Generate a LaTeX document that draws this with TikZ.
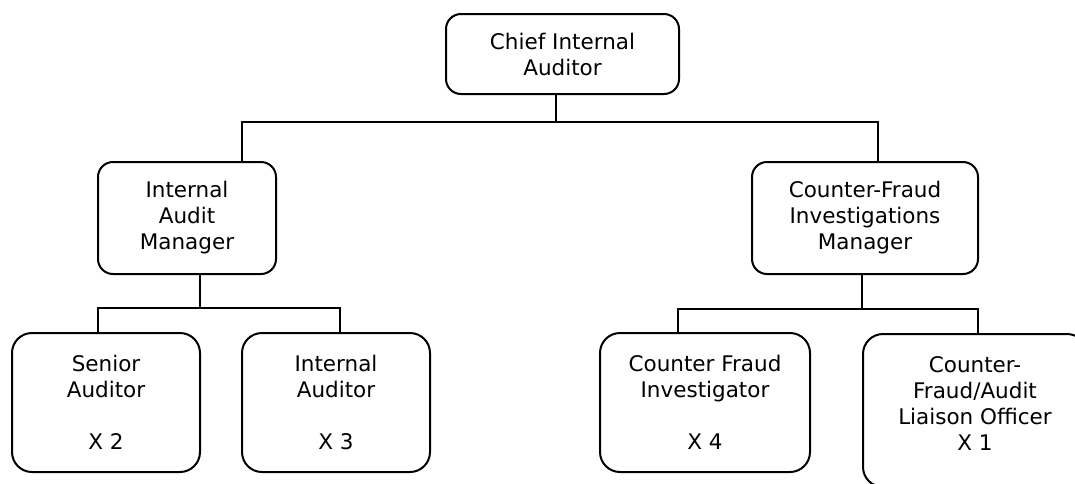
\documentclass[tikz,border=0pt]{standalone}
\usepackage{fontspec}
\setmainfont{DejaVu Sans}
\usetikzlibrary{positioning}

\tikzset{
    post/.style={draw, line width=2pt, rounded corners=15pt, align=center,
        inner sep=0pt, font=\fontsize{21.5}{26}\selectfont},
    staff/.style={post, rounded corners=20pt},
    link/.style={line width=2pt}
}

\begin{document}
\begin{tikzpicture}[x=1pt, y=-1pt]
    \clip (0,0) rectangle (1075,483);

    % Head of the unit
    \node[post, minimum width=233, minimum height=80] (chief) at (562.5,54) {Chief Internal\\Auditor};

    % Managers
    \node[post, minimum width=178, minimum height=112] (iam) at (187,218) {Internal\\Audit\\Manager};
    \node[post, minimum width=226, minimum height=112] (cfim) at (865,218) {Counter-Fraud\\Investigations\\Manager};

    % Staff posts
    \node[staff, minimum width=188, minimum height=139] (sa) at (106,402.5) {Senior\\Auditor\\[26pt]X 2};
    \node[staff, minimum width=188, minimum height=139] (ia) at (336,402.5) {Internal\\Auditor\\[26pt]X 3};
    \node[staff, minimum width=210, minimum height=139] (cfi) at (705,402.5) {Counter Fraud\\Investigator\\[26pt]X 4};
    \node[staff, minimum width=224, anchor=north, text height=116pt, text depth=37pt] (cfal) at (975,333)
        {Counter-\\Fraud/Audit\\Liaison Officer\\X 1};

    % Top level bus
    \coordinate (bus1) at (556,122);
    \draw[link] (bus1 |- chief.south) -- (bus1);
    \draw[link] ([xshift=55pt]iam.north) |- ([xshift=13pt]cfim.north |- bus1) -- ([xshift=13pt]cfim.north);

    % Internal audit team
    \draw[link] ([xshift=13pt]iam.south) -- ++(0,33) coordinate (bus2);
    \draw[link] ([xshift=-8pt]sa.north) |- ([xshift=4pt]ia.north |- bus2) -- ([xshift=4pt]ia.north);

    % Counter-fraud team
    \draw[link] ([xshift=-3pt]cfim.south) -- ++(0,34) coordinate (bus3);
    \draw[link] ([xshift=-27pt]cfi.north) |- ([xshift=3pt]cfal.north |- bus3) -- ([xshift=3pt]cfal.north);
\end{tikzpicture}
\end{document}
